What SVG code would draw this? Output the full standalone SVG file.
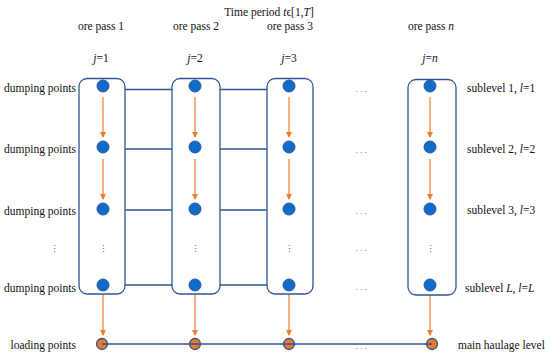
<svg xmlns="http://www.w3.org/2000/svg" width="550" height="360" viewBox="0 0 550 360">
<defs>
<marker id="ah" markerWidth="6" markerHeight="6" refX="5" refY="3" orient="auto" markerUnits="userSpaceOnUse">
<path d="M0,0 L6,3 L0,6 Z" fill="#ED7D31"/>
</marker>
</defs>
<style>
text{font-family:"Liberation Serif","Times New Roman",serif;font-size:11.5px;fill:#111}
.box{fill:none;stroke:#2F5597;stroke-width:1.3}
.lnk{stroke:#2F5597;stroke-width:1.3;fill:none}
.dot{fill:#0F6CC8;stroke:#2F5597;stroke-width:1}
.ld{fill:#E07B39;stroke:#44546A;stroke-width:1.3}
.arr{stroke:#ED7D31;stroke-width:1.2;marker-end:url(#ah)}
.m{text-anchor:middle}
.e{text-anchor:end}
.dd{fill:#555;font-size:9px;text-anchor:middle}
</style>
<rect width="550" height="360" fill="#fff"/>
<text class="m" x="269" y="16">Time period <tspan font-style="italic">t</tspan>ϵ[1,<tspan font-style="italic">T</tspan>]</text>
<g id="headers">
<text class="m" x="101" y="30">ore pass 1</text>
<text class="m" x="196" y="30">ore pass 2</text>
<text class="m" x="290" y="30">ore pass 3</text>
<text class="m" x="431" y="30">ore pass <tspan font-style="italic">n</tspan></text>
<text class="m" x="101" y="62"><tspan font-style="italic">j</tspan>=1</text>
<text class="m" x="195" y="62"><tspan font-style="italic">j</tspan>=2</text>
<text class="m" x="289" y="62"><tspan font-style="italic">j</tspan>=3</text>
<text class="m" x="430" y="62"><tspan font-style="italic">j</tspan>=<tspan font-style="italic">n</tspan></text>
</g>
<g id="left-labels">
<text class="e" x="76" y="92">dumping points</text>
<text class="e" x="76" y="153">dumping points</text>
<text class="e" x="76" y="215">dumping points</text>
<text class="dd" x="54" y="252">⋮</text>
<text class="e" x="76" y="292">dumping points</text>
<text class="e" x="76" y="349">loading points</text>
</g>
<g id="right-labels">
<text x="467" y="92">sublevel 1, <tspan font-style="italic">l</tspan>=1</text>
<text x="467" y="153">sublevel 2, <tspan font-style="italic">l</tspan>=2</text>
<text x="467" y="214">sublevel 3, <tspan font-style="italic">l</tspan>=3</text>
<text x="465" y="292">sublevel <tspan font-style="italic">L</tspan>, <tspan font-style="italic">l</tspan>=<tspan font-style="italic">L</tspan></text>
<text x="458" y="349">main haulage level</text>
</g>
<g id="connectors">
<line class="lnk" x1="125" y1="89.5" x2="172" y2="89.5"/>
<line class="lnk" x1="220" y1="89.5" x2="267" y2="89.5"/>
<line class="lnk" x1="125" y1="149" x2="172" y2="149"/>
<line class="lnk" x1="220" y1="149" x2="267" y2="149"/>
<line class="lnk" x1="125" y1="210" x2="172" y2="210"/>
<line class="lnk" x1="220" y1="210" x2="267" y2="210"/>
<line class="lnk" x1="125" y1="285" x2="172" y2="285"/>
<line class="lnk" x1="220" y1="285" x2="267" y2="285"/>
<line class="arr" x1="103" y1="97" x2="103" y2="137"/>
<line class="arr" x1="195" y1="97" x2="195" y2="137"/>
<line class="arr" x1="289" y1="97" x2="289" y2="137"/>
<line class="arr" x1="430" y1="97" x2="430" y2="137"/>
<line class="arr" x1="103" y1="159" x2="103" y2="199"/>
<line class="arr" x1="195" y1="159" x2="195" y2="199"/>
<line class="arr" x1="289" y1="159" x2="289" y2="199"/>
<line class="arr" x1="430" y1="159" x2="430" y2="199"/>
<line class="arr" x1="103" y1="294" x2="103" y2="335"/>
<line class="arr" x1="195" y1="294" x2="195" y2="335"/>
<line class="arr" x1="289" y1="294" x2="289" y2="335"/>
<line class="arr" x1="430" y1="295" x2="430" y2="335"/>
</g>
<g id="pass-1">
<rect class="box" x="79" y="78.5" width="46" height="215.5" rx="8"/>
<circle class="dot" cx="103" cy="86" r="6"/>
<circle class="dot" cx="103" cy="147" r="6"/>
<circle class="dot" cx="103" cy="209" r="6"/>
<text class="dd" x="103" y="252">⋮</text>
<circle class="dot" cx="103" cy="285" r="6"/>
</g>
<g id="pass-2">
<rect class="box" x="172" y="78.5" width="48" height="215.5" rx="8"/>
<circle class="dot" cx="195" cy="86" r="6"/>
<circle class="dot" cx="195" cy="147" r="6"/>
<circle class="dot" cx="195" cy="209" r="6"/>
<text class="dd" x="195" y="252">⋮</text>
<circle class="dot" cx="195" cy="285" r="6"/>
</g>
<g id="pass-3">
<rect class="box" x="267" y="78.5" width="46" height="215.5" rx="8"/>
<circle class="dot" cx="289" cy="86" r="6"/>
<circle class="dot" cx="289" cy="147" r="6"/>
<circle class="dot" cx="289" cy="209" r="6"/>
<text class="dd" x="289" y="252">⋮</text>
<circle class="dot" cx="289" cy="285" r="6"/>
</g>
<g id="pass-n">
<rect class="box" x="408" y="79.5" width="48" height="215.5" rx="8"/>
<circle class="dot" cx="430" cy="86" r="6"/>
<circle class="dot" cx="430" cy="147" r="6"/>
<circle class="dot" cx="430" cy="209" r="6"/>
<text class="dd" x="430" y="252">⋮</text>
<circle class="dot" cx="430" cy="285" r="6"/>
</g>
<g id="ellipses">
<text class="dd" x="361" y="92">. . .</text>
<text class="dd" x="361" y="153">. . .</text>
<text class="dd" x="361" y="214">. . .</text>
<text class="dd" x="361" y="251">. . .</text>
<text class="dd" x="361" y="290">. . .</text>
<text class="dd" x="361" y="349">. . .</text>
</g>
<g id="loading">
<circle class="ld" cx="102" cy="344" r="5.5"/>
<circle class="ld" cx="195" cy="344" r="5.5"/>
<circle class="ld" cx="289" cy="344" r="5.5"/>
<circle class="ld" cx="432" cy="344" r="5.5"/>
<line class="lnk" x1="102" y1="344" x2="432" y2="344" stroke="#4472C4"/>
</g>
</svg>
